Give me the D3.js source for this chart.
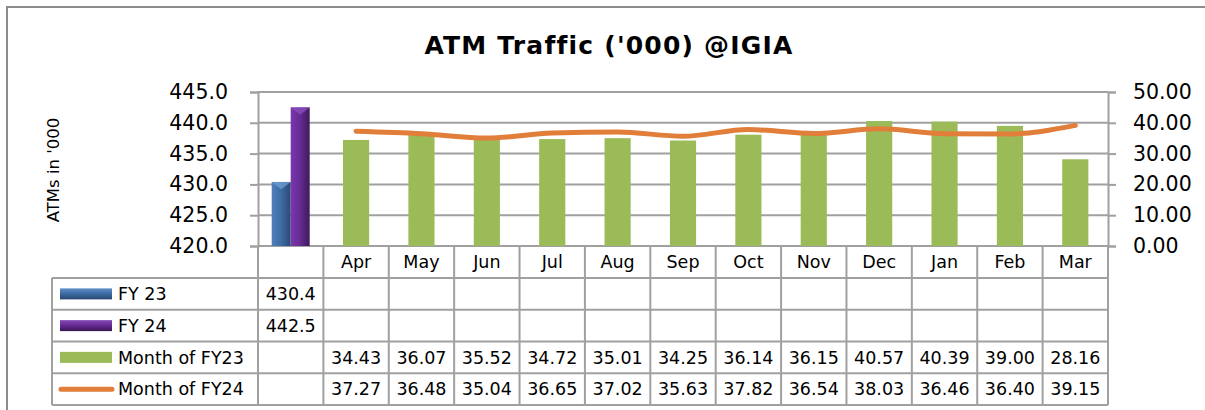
<!DOCTYPE html>
<html>
<head>
<meta charset="utf-8">
<script src="https://cdn.jsdelivr.net/npm/d3@7"></script>
<style>
    body { margin: 0; background: #fff; }
    text { font-family: "DejaVu Sans", Verdana, sans-serif; fill: #000; }
</style>
</head>
<body>
<svg id="chart" width="1205" height="410"></svg>
<script>
var categories = ["", "Apr", "May", "Jun", "Jul", "Aug", "Sep", "Oct", "Nov", "Dec", "Jan", "Feb", "Mar"];
var fyNames = ["FY 23", "FY 24"];
var fyValues = [430.4, 442.5];
var months = categories.slice(1);
var monthFY23 = [34.43, 36.07, 35.52, 34.72, 35.01, 34.25, 36.14, 36.15, 40.57, 40.39, 39.00, 28.16];
var monthFY24 = [37.27, 36.48, 35.04, 36.65, 37.02, 35.63, 37.82, 36.54, 38.03, 36.46, 36.40, 39.15];
var leftTicks = [420, 425, 430, 435, 440, 445];
var rightTicks = [0, 10, 20, 30, 40, 50];

var svg = d3.select('#chart');
var gridColor = '#a0a0a0';
var colors = { fy23: '#4f81bd', fy24: '#7030a0', m23: '#9bbb59', m24: '#e07e3a' };

var plot = { left: 258, right: 1108, top: 92, bottom: 246 };
var table = { left: 52, headerH: 32, rowH: 31.75 };
var cellFont = '17.5px';

// outer frame
svg.append('rect')
    .attr('x', 7).attr('y', 7)
    .attr('width', 1230).attr('height', 430)
    .attr('fill', 'none')
    .attr('stroke', '#8c8c8c')
    .attr('stroke-width', 2);

svg.append('text')
    .attr('x', 609).attr('y', 54)
    .attr('text-anchor', 'middle')
    .style('font-size', '25px')
    .style('font-weight', 'bold')
    .style('letter-spacing', '1.2px')
    .text("ATM Traffic ('000) @IGIA");

var x = d3.scaleBand().domain(categories).range([plot.left, plot.right]);
var yLeft = d3.scaleLinear().domain([420, 445]).range([plot.bottom, plot.top]);
var yRight = d3.scaleLinear().domain([0, 50]).range([plot.bottom, plot.top]);
var bw = x.bandwidth();

// gradients for the bevelled bars
var defs = svg.append('defs');
function bevel(id, light, mid, dark, vertical) {
    var g = defs.append('linearGradient').attr('id', id);
    if (vertical) {
        g.attr('x1', 0).attr('y1', 0).attr('x2', 0).attr('y2', 1);
    }
    g.append('stop').attr('offset', '0%').attr('stop-color', light);
    g.append('stop').attr('offset', '45%').attr('stop-color', mid);
    g.append('stop').attr('offset', '100%').attr('stop-color', dark);
}
bevel('gFY23', '#4f80bb', '#3f6ea6', '#2a4a74');
bevel('gFY24', '#7a38ad', '#682c96', '#3e1a5c');
bevel('gFY23h', '#5f8fc8', '#3f6ea6', '#274670', true);
bevel('gFY24h', '#8548b8', '#682c96', '#3a1656', true);

// gridlines
svg.append('g').selectAll('line').data(leftTicks).enter().append('line')
    .attr('x1', plot.left).attr('x2', plot.right)
    .attr('y1', function(d) { return yLeft(d); })
    .attr('y2', function(d) { return yLeft(d); })
    .attr('stroke', gridColor).attr('stroke-width', 2);

// axes
var leftAxis = svg.append('g')
    .attr('transform', 'translate(' + plot.left + ',0)')
    .call(d3.axisLeft(yLeft).tickValues(leftTicks).tickFormat(d3.format('.1f')).tickSize(8).tickPadding(22));
var rightAxis = svg.append('g')
    .attr('transform', 'translate(' + plot.right + ',0)')
    .call(d3.axisRight(yRight).tickValues(rightTicks).tickFormat(d3.format('.2f')).tickSize(8).tickPadding(17));
[leftAxis, rightAxis].forEach(function(a) {
    a.select('.domain').attr('stroke', gridColor).attr('stroke-width', 2);
    a.selectAll('.tick line').attr('stroke', gridColor).attr('stroke-width', 2);
    a.selectAll('.tick text')
        .style('font-size', '20.5px')
        .style('font-family', '"DejaVu Sans", Verdana, sans-serif')
        .attr('fill', '#000');
});

svg.append('text')
    .attr('transform', 'translate(59,170) rotate(-90)')
    .attr('text-anchor', 'middle')
    .style('font-size', '16.5px')
    .text("ATMs in '000");

// FY bars in the first category (left axis)
var x1 = d3.scaleBand().domain(fyNames).range([0, 38]);
var fyStart = x(categories[0]) + (bw - 38) / 2;
var fyG = svg.append('g');
fyG.selectAll('rect').data(fyValues).enter().append('rect')
    .attr('x', function(d, i) { return fyStart + x1(fyNames[i]); })
    .attr('y', function(d) { return yLeft(d); })
    .attr('width', x1.bandwidth())
    .attr('height', function(d) { return plot.bottom - yLeft(d); })
    .attr('fill', function(d, i) { return i === 0 ? 'url(#gFY23)' : 'url(#gFY24)'; });
fyG.selectAll('polygon').data(fyValues).enter().append('polygon')
    .attr('points', function(d, i) {
        var x0 = fyStart + x1(fyNames[i]), w = x1.bandwidth(), y0 = yLeft(d);
        return [[x0, y0], [x0 + w, y0], [x0 + w / 2, y0 + w / 2.6]].join(' ');
    })
    .attr('fill', function(d, i) { return i === 0 ? '#6b9bd3' : '#8a4cc0'; })
    .attr('opacity', 0.8);

// monthly bars (right axis)
var mw = bw * 0.4;
svg.append('g').selectAll('rect').data(monthFY23).enter().append('rect')
    .attr('x', function(d, i) { return x(months[i]) + (bw - mw) / 2; })
    .attr('y', function(d) { return yRight(d); })
    .attr('width', mw)
    .attr('height', function(d) { return plot.bottom - yRight(d); })
    .attr('fill', colors.m23);

// monthly line (right axis)
var line = d3.line()
    .x(function(d, i) { return x(months[i]) + bw / 2; })
    .y(function(d) { return yRight(d); })
    .curve(d3.curveMonotoneX);
svg.append('path')
    .datum(monthFY24)
    .attr('d', line)
    .attr('fill', 'none')
    .attr('stroke', colors.m24)
    .attr('stroke-width', 5)
    .attr('stroke-linecap', 'round')
    .attr('stroke-linejoin', 'round');

// data table
var rows = [
    { name: 'FY 23', key: 'fy23', values: [fyValues[0]], fmt: d3.format('.1f') },
    { name: 'FY 24', key: 'fy24', values: [fyValues[1]], fmt: d3.format('.1f') },
    { name: 'Month of FY23', key: 'm23', values: [null].concat(monthFY23), fmt: d3.format('.2f') },
    { name: 'Month of FY24', key: 'm24', values: [null].concat(monthFY24), fmt: d3.format('.2f') }
];
var headTop = plot.bottom;
var rowTop = headTop + table.headerH;
var tableBottom = rowTop + rows.length * table.rowH;
var tg = svg.append('g').attr('stroke', gridColor).attr('stroke-width', 2);

// horizontal lines
tg.append('line').attr('x1', table.left).attr('x2', plot.right)
    .attr('y1', rowTop).attr('y2', rowTop);
d3.range(1, rows.length + 1).forEach(function(r) {
    var yy = rowTop + r * table.rowH;
    tg.append('line').attr('x1', table.left).attr('x2', plot.right).attr('y1', yy).attr('y2', yy);
});
// vertical lines
tg.append('line').attr('x1', table.left).attr('x2', table.left).attr('y1', rowTop).attr('y2', tableBottom);
categories.forEach(function(c) {
    tg.append('line').attr('x1', x(c)).attr('x2', x(c)).attr('y1', headTop).attr('y2', tableBottom);
});
tg.append('line').attr('x1', plot.right).attr('x2', plot.right).attr('y1', headTop).attr('y2', tableBottom);

// header labels
svg.append('g').selectAll('text').data(months).enter().append('text')
    .attr('x', function(d) { return x(d) + bw / 2; })
    .attr('y', headTop + table.headerH / 2)
    .attr('dy', '0.36em')
    .attr('text-anchor', 'middle')
    .style('font-size', cellFont)
    .text(String);

rows.forEach(function(row, r) {
    var cy = rowTop + r * table.rowH + table.rowH / 2;
    svg.append('text')
        .attr('x', 118).attr('y', cy).attr('dy', '0.36em')
        .style('font-size', cellFont)
        .text(row.name);
    row.values.forEach(function(v, i) {
        if (v === null) return;
        svg.append('text')
            .attr('x', x(categories[i]) + bw / 2).attr('y', cy).attr('dy', '0.36em')
            .attr('text-anchor', 'middle')
            .style('font-size', cellFont)
            .text(row.fmt(v));
    });
    // legend key
    if (row.key === 'm24') {
        svg.append('line')
            .attr('x1', 61).attr('x2', 112).attr('y1', cy).attr('y2', cy)
            .attr('stroke', colors.m24).attr('stroke-width', 5).attr('stroke-linecap', 'round');
    } else if (row.key === 'm23') {
        svg.append('rect')
            .attr('x', 60).attr('y', cy - 5.5).attr('width', 52).attr('height', 11)
            .attr('fill', colors.m23);
    } else {
        svg.append('rect')
            .attr('x', 60).attr('y', cy - 5.5).attr('width', 52).attr('height', 11)
            .attr('fill', row.key === 'fy23' ? 'url(#gFY23h)' : 'url(#gFY24h)');
    }
});
</script>
</body>
</html>
